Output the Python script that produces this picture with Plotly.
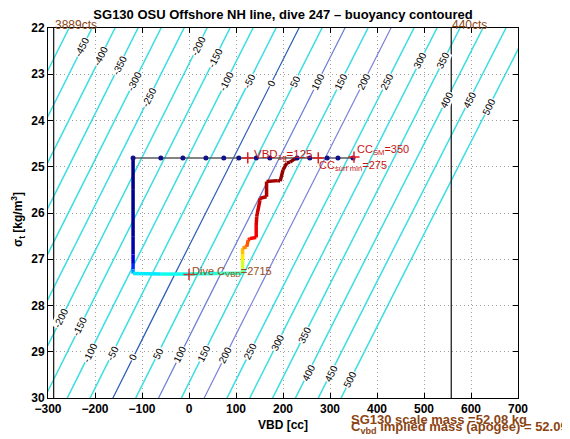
import numpy as np
import plotly.graph_objects as go

# ---------------- data ----------------
x_ticks = list(range(-300, 701, 100))
y_ticks = list(range(22, 31))
glider_mass_g = 52080.0
hull_volume_cc = 50725.0          # displaced volume at VBD = 0 cc
levels = list(range(-500, 501, 50))
highlight_levels = {0: "#2a5cb8", 100: "#6b7ed6", 200: "#7a84d8"}

# sigma positions of the inline contour labels (upper row / lower row)
label_sigma_upper = {-450: 22.41, -400: 22.62, -350: 22.80, -300: 23.15, -250: 23.50,
                     -200: 22.39, -150: 22.65, -100: 23.15, -50: 23.15, 0: 23.19,
                     50: 23.15, 100: 23.15, 150: 23.15, 200: 23.15, 250: 23.15,
                     300: 22.71, 350: 22.71, 400: 23.56, 450: 23.56, 500: 23.69}
label_sigma_lower = {-200: 28.27, -150: 28.46, -100: 29.03, -50: 29.03, 0: 29.11,
                     50: 29.03, 100: 29.07, 150: 29.03, 200: 29.07, 250: 29.0,
                     300: 28.8, 350: 28.64, 400: 29.46, 450: 29.46, 500: 29.61}

# surface VBD samples
surf_vbd = [-119, -60, -13, 36, 74, 106, 143, 172, 230, 257, 294, 317, 349]
surf_sigma = [24.81] * len(surf_vbd)

# dive trajectory (VBD, sigma_t, normalised time for colour)
dive_vbd = [-119, -119, -119, -119, -119, -119, -119, -119, -60, 0, 60, 114,
            114, 114, 114, 114, 123, 126, 130, 143, 143, 144, 151, 151, 165, 165,
            189, 194, 200, 208, 215, 225, 232]
dive_sigma = [24.81, 25.5, 26.0, 26.5, 26.9, 27.1, 27.22, 27.31, 27.32, 27.32, 27.31, 27.30,
              27.2, 27.02, 26.9, 26.76, 26.73, 26.58, 26.55, 26.53, 26.26, 26.08, 25.72, 25.68,
              25.65, 25.32, 25.30, 25.31, 25.07, 24.92, 24.90, 24.83, 24.81]
dive_time = [0.00, 0.01, 0.02, 0.03, 0.06, 0.11, 0.22, 0.33, 0.38, 0.40, 0.42, 0.45,
             0.55, 0.62, 0.66, 0.71, 0.76, 0.82, 0.86, 0.88, 0.90, 0.92, 0.93, 0.94,
             0.95, 0.96, 0.97, 0.975, 0.98, 0.985, 0.99, 0.995, 1.0]

vbd_1g = 125
cc_surf_min = 275
cc_sm = 351
dive_c_vbd_pos = (0, 27.33)
cts_lines = {"3889cts": -288, "440cts": 558}

# ---------------- helpers ----------------
OFF = 8                      # page body margin
W, H = 570 - OFF, 439 - OFF
ML, MR, MT, MB = 48 - OFF, 52, 28 - OFF, 41
PW, PH = W - ML - MR, H - MT - MB

def px_x(p):   # page pixel -> paper x
    return (p - OFF - ML) / PW

def px_y(p):   # page pixel -> paper y
    return 1 - (p - OFF - MT) / PH

def vbd_for(level, sigma):
    sigma = np.asarray(sigma, dtype=float)
    return (glider_mass_g + level) * 1000.0 / (1000.0 + sigma) - hull_volume_cc

def jet(t):
    r = np.clip(1.5 - abs(4 * t - 3), 0, 1)
    g = np.clip(1.5 - abs(4 * t - 2), 0, 1)
    b = np.clip(1.5 - abs(4 * t - 1), 0, 1)
    return "rgb(%d,%d,%d)" % (round(r * 255), round(g * 255), round(b * 255))

FONT = "Liberation Sans"
BROWN = "#8B4513"
RED = "#c81414"

fig = go.Figure()

# buoyancy contour lines
sig_line = np.linspace(21.5, 30.5, 10)
for lev in levels:
    col = highlight_levels.get(lev, "rgb(60,222,226)")
    wid = 1.2 if lev in highlight_levels else 1.5
    fig.add_trace(go.Scatter(x=vbd_for(lev, sig_line), y=sig_line, mode="lines",
                             line=dict(color=col, width=wid), hoverinfo="skip", showlegend=False))

# count-limit lines
for name, v in cts_lines.items():
    fig.add_trace(go.Scatter(x=[v, v], y=[22, 30], mode="lines",
                             line=dict(color="#202020", width=1.3), showlegend=False))

# surface samples
fig.add_trace(go.Scatter(x=surf_vbd, y=surf_sigma, mode="lines",
                         line=dict(color="#5a5a5a", width=1.5), showlegend=False))

# dive trajectory, coloured by time
for i in range(len(dive_vbd) - 1):
    t = 0.5 * (dive_time[i] + dive_time[i + 1])
    fig.add_trace(go.Scatter(x=dive_vbd[i:i + 2], y=dive_sigma[i:i + 2], mode="lines",
                             line=dict(color=jet(t), width=3.5), showlegend=False))

fig.add_trace(go.Scatter(x=surf_vbd, y=surf_sigma, mode="markers",
                         marker=dict(color="#10108a", size=5), showlegend=False))

# markers
fig.add_trace(go.Scatter(x=[vbd_1g, cc_surf_min, cc_sm], y=[24.81, 24.81, 24.79], mode="markers",
                         marker=dict(symbol="cross-thin", size=8, line=dict(color="#e02020", width=1.5)),
                         showlegend=False))
fig.add_trace(go.Scatter(x=[dive_c_vbd_pos[0]], y=[dive_c_vbd_pos[1]], mode="markers",
                         marker=dict(symbol="cross-thin", size=8, line=dict(color="#d03030", width=1.5)),
                         showlegend=False))

ann = []
# contour labels
ang = -np.degrees(np.arctan((PH / 8.0) / (abs(vbd_for(0, 26) - vbd_for(0, 27)) * PW / 1000.0)))
for d in (label_sigma_upper, label_sigma_lower):
    for lev, s in d.items():
        ann.append(dict(x=float(vbd_for(lev, s)), y=s, xref="x", yref="y", text=str(lev),
                        showarrow=False, textangle=ang, font=dict(family=FONT, size=10, color="black"),
                        bgcolor="white", borderpad=0, xanchor="center", yanchor="middle"))

# marker texts
ann.append(dict(x=133, y=24.81, xref="x", yref="y", text="VBD<sub>1g</sub>=125", showarrow=False,
                xanchor="left", yanchor="middle", yshift=3, font=dict(family=FONT, size=11.5, color=RED)))
ann.append(dict(x=272, y=24.81, xref="x", yref="y", text="CC<sub>surf min</sub>=275", showarrow=False,
                xanchor="left", yanchor="middle", yshift=-8, font=dict(family=FONT, size=11, color=RED)))
ann.append(dict(x=353, y=24.81, xref="x", yref="y", text="CC<sub>SM</sub>=350", showarrow=False,
                xanchor="left", yanchor="middle", yshift=8, font=dict(family=FONT, size=11, color=RED)))
ann.append(dict(x=2, y=27.33, xref="x", yref="y", text="Dive C<sub>VBD</sub>=2715", showarrow=False,
                xanchor="left", yanchor="middle", yshift=3, font=dict(family=FONT, size=11, color="#9a4a18")))

for name, v in cts_lines.items():
    ann.append(dict(x=v, y=1, xref="x", yref="paper", text=name, showarrow=False,
                    xanchor="left", yanchor="bottom", xshift=-1, yshift=-6,
                    font=dict(family=FONT, size=12, color=BROWN)))

# titles
ann.append(dict(x=0.5, y=px_y(425), xref="paper", yref="paper", text="VBD [cc]",
                showarrow=False, xanchor="center", yanchor="middle",
                font=dict(family=FONT, size=12, color="black", weight="bold")))
ann.append(dict(x=px_x(18), y=px_y(220), xref="paper", yref="paper",
                text="σ<sub>t</sub> [kg/m<sup>3</sup>]", textangle=-90,
                showarrow=False, xanchor="center", yanchor="middle",
                font=dict(family=FONT, size=12, color="black", weight="bold")))
ann.append(dict(x=px_x(349), y=px_y(419), xref="paper", yref="paper",
                text="SG130 scale mass =52.08 kg", showarrow=False, xanchor="left", yanchor="middle",
                font=dict(family=FONT, size=13, color=BROWN, weight="bold")))
ann.append(dict(x=px_x(349), y=px_y(427), xref="paper", yref="paper",
                text="C<sub>vbd</sub> implied mass (apogee) = 52.099", showarrow=False, xanchor="left",
                yanchor="middle", font=dict(family=FONT, size=13, color=BROWN, weight="bold")))

axis_common = dict(showgrid=True, gridcolor="#a0a0a0", griddash="1px,3px", gridwidth=1, zeroline=False,
                   showline=True, linecolor="black", linewidth=1, mirror="ticks", ticks="inside",
                   ticklen=5, tickcolor="black",
                   tickfont=dict(family=FONT, size=12, color="black", weight="bold"))

fig.update_layout(
    width=W, height=H, autosize=False,
    margin=dict(l=ML, r=MR, t=MT, b=MB),
    paper_bgcolor="white", plot_bgcolor="white",
    title=dict(text="SG130 OSU Offshore NH line, dive 247 – buoyancy contoured",
               x=(ML + PW / 2) / W, xanchor="center", y=1 - (14 - OFF) / H, yanchor="middle",
               font=dict(family=FONT, size=13, color="black", weight="bold")),
    xaxis=dict(range=[-300, 700], tickvals=x_ticks, **axis_common),
    yaxis=dict(range=[30, 22], tickvals=y_ticks, **axis_common),
    annotations=ann,
    showlegend=False,
)

fig.write_html("out.html")
